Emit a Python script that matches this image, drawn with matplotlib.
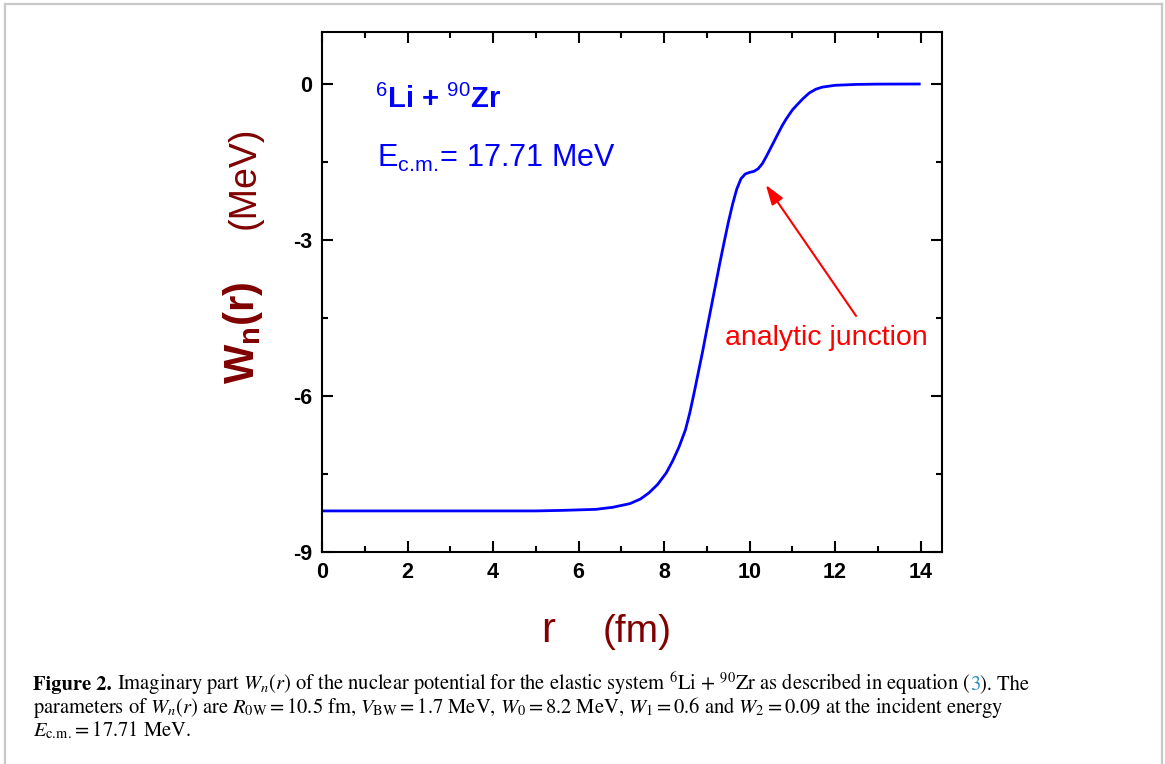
import matplotlib
matplotlib.use("Agg")
import matplotlib.pyplot as plt
from matplotlib import font_manager
from matplotlib.lines import Line2D
from matplotlib.ticker import MultipleLocator

# curve (r in fm, W in MeV)
r_fm = [0.0, 1.0, 2.0, 3.0, 4.0, 5.0, 5.6, 6.0, 6.4, 6.8, 7.2, 7.45, 7.65, 7.85,
        8.05, 8.2, 8.35, 8.5, 8.6, 8.7, 8.8, 8.9, 9.0, 9.1, 9.2, 9.3, 9.4,
        9.5, 9.6, 9.7, 9.8, 9.9, 10.0, 10.1, 10.2, 10.3, 10.4, 10.5, 10.6,
        10.75, 10.85, 11.0, 11.1, 11.25, 11.4, 11.55, 11.7, 12.0, 12.5, 13.0, 14.0]
w_mev = [-8.21, -8.21, -8.21, -8.21, -8.21, -8.21, -8.2, -8.19, -8.18, -8.14,
         -8.07, -7.98, -7.86, -7.7, -7.48, -7.25, -6.98, -6.65, -6.33, -5.95,
         -5.55, -5.15, -4.72, -4.3, -3.88, -3.46, -3.06, -2.67, -2.32, -2.02,
         -1.82, -1.73, -1.7, -1.68, -1.63, -1.53, -1.38, -1.22, -1.06,
         -0.82, -0.68, -0.5, -0.41, -0.28, -0.17, -0.1, -0.06, -0.025, -0.008,
         -0.002, 0.0]

x_ticks = [0, 2, 4, 6, 8, 10, 12, 14]
y_ticks = [-9, -6, -3, 0]

W, H = 1165, 764
DARKRED = "#800000"
BLUE = "#0000ff"

names = {f.name for f in font_manager.fontManager.ttflist}
NARROW = "Liberation Sans Narrow" if "Liberation Sans Narrow" in names else "Liberation Sans"

plt.rcParams["axes.unicode_minus"] = False
plt.rcParams["mathtext.fontset"] = "custom"
plt.rcParams["mathtext.rm"] = "Liberation Sans"
plt.rcParams["mathtext.it"] = "Liberation Sans:italic"
plt.rcParams["mathtext.bf"] = "Liberation Sans:bold"

fig = plt.figure(figsize=(W / 100, H / 100), dpi=100)

# light frame around the figure + caption
fr = dict(color="#c8c8c8", lw=1.6, transform=fig.transFigure)
fig.add_artist(Line2D([5 / W, 5 / W], [0, 1 - 4 / H], **fr))
fig.add_artist(Line2D([5 / W, 1162 / W], [1 - 4 / H, 1 - 4 / H], **fr))
fig.add_artist(Line2D([1162 / W, 1162 / W], [0, 1 - 4 / H], **fr))

ax = fig.add_axes([322 / W, 1 - 552 / H, 620 / W, 520 / H])
ax.plot(r_fm, w_mev, color=BLUE, lw=2.0, solid_capstyle="butt")
ax.set_xlim(0, 14.5)
ax.set_ylim(-9, 1)

ax.set_xticks(x_ticks)
ax.set_xticklabels([str(v) for v in x_ticks])
ax.set_yticks(y_ticks)
ax.set_yticklabels([str(v) for v in y_ticks])
ax.xaxis.set_minor_locator(MultipleLocator(1))
ax.yaxis.set_minor_locator(MultipleLocator(1.5))
ax.tick_params(which="both", direction="in", top=True, right=True, width=1.5)
ax.tick_params(which="major", length=8, pad=7, labelsize=15.5)
ax.tick_params(which="minor", length=4)
for lbl in ax.get_xticklabels() + ax.get_yticklabels():
    lbl.set_fontweight("bold")
    lbl.set_family(NARROW)
for s in ax.spines.values():
    s.set_linewidth(1.5)

# in-plot texts
ax.text(1.24, -0.46, r"$^{6}$Li + $^{90}$Zr", color=BLUE, fontsize=21,
        fontweight="bold", family="Liberation Sans", va="baseline")
ax.text(1.29, -1.6, r"E$_{\mathrm{c.\!m.\!}}$= 17.71 MeV", color=BLUE, fontsize=22,
        family="Liberation Sans", va="baseline")
ax.text(9.42, -5.02, "analytic junction", color="red", fontsize=20.5,
        family="Liberation Sans", va="baseline")
ax.annotate("", xy=(10.38, -1.94), xytext=(12.49, -4.46),
            arrowprops=dict(arrowstyle="-|>,head_length=0.6,head_width=0.2",
                            color="red", lw=1.5, shrinkA=0, shrinkB=0,
                            mutation_scale=20))

# axis titles
fig.text(548 / W, 1 - 642 / H, "r", color=DARKRED, fontsize=30, family=NARROW,
         ha="center", va="baseline")
fig.text(637 / W, 1 - 642 / H, "(fm)", color=DARKRED, fontsize=28, family=NARROW,
         ha="center", va="baseline")
fig.text(245 / W, 1 - 178 / H, "(MeV)", color=DARKRED, fontsize=27, family=NARROW,
         rotation=90, ha="center", va="center")
fig.text(243 / W, 1 - 333 / H, r"W$_{\mathbf{n}}$(r)", color=DARKRED, fontsize=30,
         fontweight="bold", family=NARROW, rotation=90, ha="center", va="center")

# caption
fig.canvas.draw()
rend = fig.canvas.get_renderer()
cap = dict(fontsize=14.8, family="STIXGeneral", math_fontfamily="stix",
           va="baseline", ha="left")


def width_of(s, **kw):
    t = fig.text(0, 0, s + "|", **kw)
    t2 = fig.text(0, 0, "|", **kw)
    w = t.get_window_extent(rend).width - t2.get_window_extent(rend).width
    t.remove()
    t2.remove()
    return w


def put_line(pieces, x0, y0):
    x = x0
    for s, kw in pieces:
        props = dict(cap)
        props.update(kw)
        fig.text(x / W, 1 - y0 / H, s, **props)
        x += width_of(s, **props)


put_line([("Figure 2. ", dict(fontweight="bold")),
          (r"Imaginary part $W_n(r)$ of the nuclear potential "
           r"for the elastic system $^{6}$Li $+$ $^{90}$Zr as described in equation (", {}),
          ("3", dict(color="#2b8cc4")),
          ("). The", {})], 33, 690)
put_line([(r"parameters of $W_n(r)$ are $R_{0\mathrm{W}} = 10.5$ fm, "
           r"$V_{\mathrm{BW}} = 1.7$ MeV, $W_0 = 8.2$ MeV, $W_1 = 0.6$ and "
           r"$W_2 = 0.09$ at the incident energy", {})], 33, 713)
put_line([(r"$E_{\mathrm{c.\!m.\!}} = 17.71$ MeV.", {})], 33, 736)

fig.savefig("out.png", dpi=100)
